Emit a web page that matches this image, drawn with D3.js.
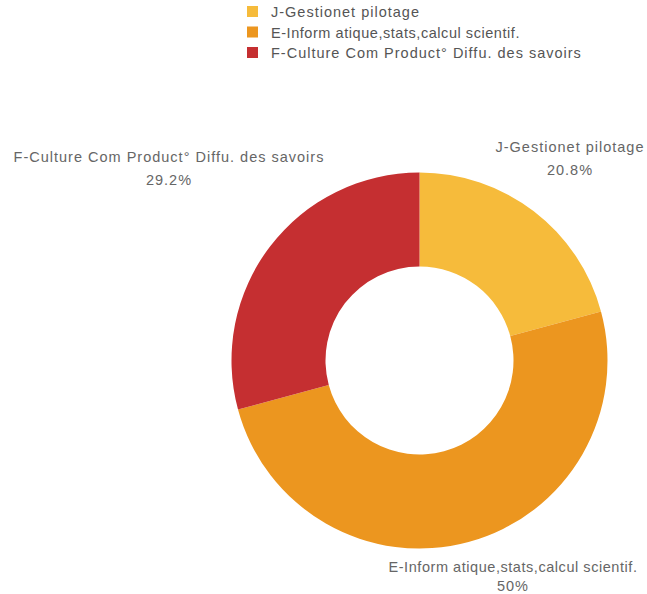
<!DOCTYPE html>
<html>
<head>
<meta charset="utf-8">
<script src="https://cdn.jsdelivr.net/npm/d3@7"></script>
<style>
	body { margin: 0; background: #fff; }
	text { font-family: 'Liberation Sans', Arial, sans-serif; letter-spacing: 1px; }
	.tight { letter-spacing: 0.55px; }
</style>
</head>
<body>
<svg id="chart"></svg>
<script>
const categories = [
	'J-Gestionet pilotage',
	'E-Inform atique,stats,calcul scientif.',
	'F-Culture Com Product° Diffu. des savoirs'
];
const values = [20.8, 50, 29.2];
const valueLabels = ['20.8%', '50%', '29.2%'];
const colors = ['#f6bb3b', '#ec961f', '#c52f31'];

const width = 647;
const height = 594;
const cx = 419.5;
const cy = 360.5;
const outerR = 188;
const innerR = 94;

const svg = d3.select('#chart')
	.attr('width', width)
	.attr('height', height);

const colorScale = d3.scaleOrdinal().domain(categories).range(colors);

const data = categories.map((c, i) => ({ key: c, value: values[i], label: valueLabels[i] }));

const pie = d3.pie().sort(null).value(d => d.value);
const arc = d3.arc().innerRadius(innerR).outerRadius(outerR);

const g = svg.append('g').attr('transform', `translate(${cx},${cy})`);

g.selectAll('path')
	.data(pie(data))
	.join('path')
	.attr('d', arc)
	.attr('fill', d => colorScale(d.data.key));

// outer labels, placed by hand around the donut
const labelPos = [
	{ x: 570, y: 152 },
	{ x: 513, y: 572 },
	{ x: 169, y: 162 }
];

const labels = svg.append('g').attr('class', 'labels');
data.forEach((d, i) => {
	const t = labels.append('text')
		.attr('x', labelPos[i].x)
		.attr('y', labelPos[i].y)
		.attr('text-anchor', 'middle')
		.attr('fill', '#666')
		.style('font-size', '14.5px');
	t.append('tspan').attr('x', labelPos[i].x).classed('tight', i === 1).text(d.key);
	t.append('tspan').attr('x', labelPos[i].x).attr('dy', i === 1 ? 19 : 23).text(d.label);
});

// legend
const legend = svg.append('g').attr('transform', 'translate(247,6)');
legend.selectAll('rect')
	.data(categories)
	.join('rect')
	.attr('x', 0)
	.attr('y', (d, i) => i * 20.5)
	.attr('width', 11)
	.attr('height', 11)
	.attr('fill', d => colorScale(d));
legend.selectAll('text')
	.data(categories)
	.join('text')
	.attr('x', 24)
	.attr('y', (d, i) => i * 20.5 + 11)
	.attr('fill', '#555')
	.classed('tight', (d, i) => i === 1)
	.style('font-size', '14.5px')
	.text(d => d);
</script>
</body>
</html>
